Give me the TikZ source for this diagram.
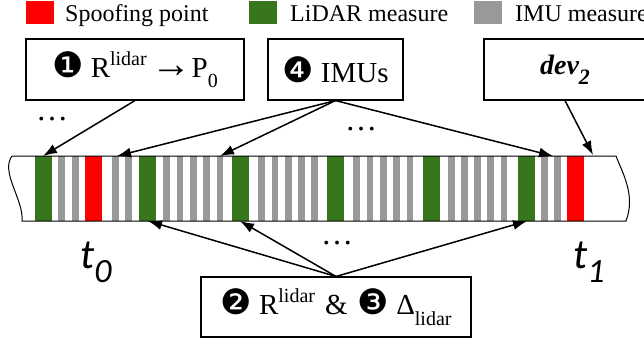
\documentclass[tikz,border=0pt]{standalone}
\usepackage{fontspec}
\setmainfont{Liberation Serif}
\newfontfamily\dingfont{DejaVu Sans}
\newfontfamily\tfont{Carlito}
\usetikzlibrary{arrows.meta}
\definecolor{spoofred}{HTML}{FF0000}
\definecolor{lidargreen}{HTML}{38761D}
\definecolor{imugray}{HTML}{999999}

\newcommand\fs[1]{\fontsize{#1}{#1}\selectfont}
\newcommand\upscr[1]{\raisebox{0.42em}{\fs{20}#1}}
\newcommand\dnscr[1]{\raisebox{-0.36em}{\fs{20}#1}}
\newcommand\ding[1]{{\dingfont\fs{35}#1}}

\begin{document}
\begin{tikzpicture}[x=1pt,y=-1pt,
  box/.style={draw,line width=1.1pt,minimum height=61pt,inner sep=0pt,font=\fs{29}},
  link/.style={line width=1.5pt,-{Latex[length=14pt,width=10pt]}},
  key/.style={minimum width=28pt,minimum height=23pt,inner sep=0pt},
  keytext/.style={anchor=base west,inner sep=0pt,font=\fs{24}},
  dots/.style={anchor=base,inner sep=0pt,font=\fs{32}},
  stamp/.style={anchor=base west,inner sep=0pt,font=\tfont\itshape\fs{42}}]
\fill[white] (0,0) rectangle (644,341);
\useasboundingbox (0,0) rectangle (644,341);

% legend
\node[key,fill=spoofred]   (keyspoof) at (40,12.5) {};
\node[keytext] (txtspoof) at (65,21) {Spoofing point};
\node[key,fill=lidargreen] (keylidar) at (263,12.5) {};
\node[keytext] (txtlidar) at (290,21) {LiDAR measure};
\node[key,fill=imugray]    (keyimu) at (488,12.5) {};
\node[keytext] (txtimu) at (515,21) {IMU measure};

% measurement strip
\foreach \x in {58.3,72.3,112,125.3,163.3,176.7,190,203.3,216.7,
                258.3,271.7,285,298.3,311.3,353.3,366.7,380,393.3,406.7,
                448,461.3,474.3,487.3,500.7,541,554}
  \fill[imugray] (\x,156) rectangle ++(6.7,65);
\foreach \x in {35,139.3,232,327,423.3,518.3}
  \fill[lidargreen] (\x,156) rectangle ++(16.7,65);
\foreach \x in {85.3,567.3}
  \fill[spoofred] (\x,156) rectangle ++(16.7,65);
\draw[line width=1pt] (12,156) -- (616,156)
  .. controls (622,172) and (636,195) .. (626,221) -- (22,221)
  .. controls (24,200) and (0,172) .. (12,156);

% boxes
\node[box,minimum width=218pt] (initbox) at (135,69.5)
  {\ding{❶} R\upscr{lidar}\hspace{5pt}{\fs{40}→}P\dnscr{0}};
\node[box,minimum width=135pt] (imubox) at (335.5,69.5)
  {\ding{❹} IMUs};
\node[box,minimum width=162pt,font=\bfseries\itshape\fs{28}] (devbox) at (565,69.5)
  {dev\raisebox{-10pt}{\fs{22}2}};
\node[box,minimum width=270pt,minimum height=60pt] (pairbox) at (336,307)
  {\ding{❷} R\upscr{lidar}\hspace{10pt}\&\hspace{10pt}\ding{❸} Δ\dnscr{lidar}};

% ellipses and time stamps
\node[dots] (dotsleft) at (52,120) {…};
\node[dots] (dotstop) at (361,130) {…};
\node[dots] (dotsbottom) at (337,244) {…};
\node[stamp] (tzero) at (80,268) {t\raisebox{-14pt}{\fs{34}0}};
\node[stamp] (tone) at (573,268) {t\raisebox{-14pt}{\fs{34}1}};

% arrow ends on the strip
\coordinate (firstlidar) at (43,156);
\coordinate (imuA) at (117,156);
\coordinate (imuB) at (220,156);
\coordinate (imuC) at (553,156);
\coordinate (devend) at (593,155);
\coordinate (lidarA) at (148,221);
\coordinate (lidarB) at (240,221);
\coordinate (lidarC) at (527,221);

\draw[link] (initbox.south) -- (firstlidar);
\draw[link] (imubox.south) -- (imuA);
\draw[link] (imubox.south) -- (imuB);
\draw[link] (imubox.south) -- (imuC);
\draw[link] (devbox.south) -- (devend);
\draw[link] (pairbox.north) -- (lidarA);
\draw[link] (pairbox.north) -- (lidarB);
\draw[link] (pairbox.north) -- (lidarC);
\end{tikzpicture}
\end{document}
